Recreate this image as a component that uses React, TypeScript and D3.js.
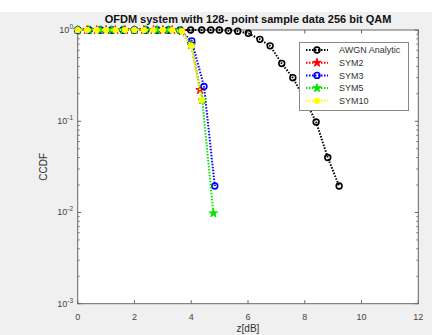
import React from 'react';
import * as d3 from 'd3';

// values (x in dB, y = CCDF)
const awgnX = [0, 0.4, 0.8, 1.2, 1.6, 2.0, 2.4, 2.8, 3.2, 3.61, 3.98, 4.37, 4.69, 4.99, 5.31, 5.64, 6.01, 6.42, 6.78, 7.19, 7.58, 7.97, 8.4, 8.81, 9.21];
const awgnY = [1, 1, 1, 1, 1, 1, 1, 1, 1, 1, 1, 1, 1, 1, 0.98, 0.97, 0.92, 0.79, 0.67, 0.43, 0.3, 0.18, 0.098, 0.04, 0.0195];

const sym2X = [0, 0.33, 0.67, 1, 1.33, 1.67, 2, 2.33, 2.67, 3, 3.33, 3.67, 4.0, 4.31];
const sym2Y = [1, 1, 1, 1, 1, 1, 1, 1, 1, 1, 1, 0.97, 0.7, 0.22];

const sym3X = [0, 0.4, 0.8, 1.2, 1.6, 2.0, 2.4, 2.8, 3.2, 3.6, 4.02, 4.45, 4.83];
const sym3Y = [1, 1, 1, 1, 1, 1, 1, 1, 1, 0.99, 0.76, 0.24, 0.0195];

const sym5X = [0, 0.4, 0.8, 1.2, 1.6, 2.0, 2.4, 2.8, 3.2, 3.6, 4.0, 4.39, 4.78];
const sym5Y = [1, 1, 1, 1, 1, 1, 1, 1, 1, 0.99, 0.68, 0.17, 0.0098];

const sym10X = [0, 0.33, 0.67, 1, 1.33, 1.67, 2, 2.33, 2.67, 3, 3.33, 3.67, 4.0, 4.37];
const sym10Y = [1, 1, 1, 1, 1, 1, 1, 1, 1, 1, 1, 0.97, 0.67, 0.17];

const seriesNames = ['AWGN Analytic', 'SYM2', 'SYM3', 'SYM5', 'SYM10'];
const seriesColors = ['#000000', '#ff0000', '#0000ff', '#00e600', '#ffff00'];
const seriesMarkers = ['circle', 'star', 'circle', 'star', 'dot'];

const xTicks = [0, 2, 4, 6, 8, 10, 12];
const yDecades = [0, -1, -2, -3];
const title = 'OFDM system with 128- point sample data 256 bit QAM';

const W = 440, H = 335;
const L = 77.7, R = 418.3, T = 30, B = 303.7;

function Marker({ kind, x, y, color }: { kind: string; x: number; y: number; color: string }) {
  if (kind === 'star') {
    const p = d3.symbol(d3.symbolStar, 22)()!;
    return <path d={p} transform={`translate(${x},${y})`} fill={color} stroke={color} strokeWidth={1} />;
  }
  if (kind === 'dot') {
    return <circle cx={x} cy={y} r={2.8} fill={color} stroke={color} strokeWidth={1} />;
  }
  return <circle cx={x} cy={y} r={2.9} fill="none" stroke={color} strokeWidth={1.6} />;
}

export default function App() {
  const x = d3.scaleLinear().domain([0, 12]).range([L, R]);
  const y = d3.scaleLog().domain([1e-3, 1]).range([B, T]);
  const line = d3.line<[number, number]>().x(d => x(d[0])).y(d => y(d[1]));

  const series = [
    [awgnX, awgnY], [sym2X, sym2Y], [sym3X, sym3Y], [sym5X, sym5Y], [sym10X, sym10Y],
  ].map(([xs, ys]) => xs.map((v, i) => [v, ys[i]] as [number, number]));

  const minor: number[] = [];
  [-3, -2, -1].forEach(e => { for (let k = 2; k <= 9; k++) minor.push(k * Math.pow(10, e)); });

  const legX = 299.5, legY = 42.5, legW = 109, legH = 68;

  return (
    <svg width={W} height={H} style={{ position: 'absolute', left: 0, top: 0 }} fontFamily="Arial, 'Liberation Sans', sans-serif">
      <rect x={0} y={0} width={W} height={H} fill="#ffffff" />
      <rect x={0} y={12} width={432} height={H - 12} fill="#f0f0f0" />
      <rect x={L} y={T} width={R - L} height={B - T} fill="#ffffff" />

      {/* ticks */}
      {xTicks.map(t => (
        <g key={'xt' + t}>
          <line x1={x(t)} x2={x(t)} y1={B} y2={B - 3.5} stroke="#666" />
          <line x1={x(t)} x2={x(t)} y1={T} y2={T + 3.5} stroke="#666" />
          <text x={x(t)} y={320} textAnchor="middle" fontSize={9} fill="#444">{t}</text>
        </g>
      ))}
      {yDecades.map(e => (
        <g key={'yt' + e}>
          <line x1={L} x2={L + 3.5} y1={y(Math.pow(10, e))} y2={y(Math.pow(10, e))} stroke="#666" />
          <line x1={R} x2={R - 3.5} y1={y(Math.pow(10, e))} y2={y(Math.pow(10, e))} stroke="#666" />
          <text x={73} y={y(Math.pow(10, e)) + 3} textAnchor="end" fontSize={9} fill="#444">
            10<tspan fontSize={6.5} dy={-4}>{e}</tspan>
          </text>
        </g>
      ))}
      {minor.map((v, i) => (
        <g key={'mn' + i}>
          <line x1={L} x2={L + 2} y1={y(v)} y2={y(v)} stroke="#777" />
          <line x1={R} x2={R - 2} y1={y(v)} y2={y(v)} stroke="#777" />
        </g>
      ))}
      <rect x={L} y={T} width={R - L} height={B - T} fill="none" stroke="#666" strokeWidth={1} />

      {/* series */}
      {series.map((pts, si) => (
        <g key={'s' + si}>
          <path d={line(pts)!} fill="none" stroke={seriesColors[si]} strokeWidth={2} strokeDasharray="1.5 1.5" />
          {pts.map((p, i) => (
            <Marker key={i} kind={seriesMarkers[si]} x={x(p[0])} y={y(p[1])} color={seriesColors[si]} />
          ))}
        </g>
      ))}

      {/* legend */}
      <rect x={legX} y={legY} width={legW} height={legH} fill="#ffffff" stroke="#888" strokeWidth={1} />
      {seriesNames.map((n, i) => {
        const ly = 50 + i * 12.7;
        return (
          <g key={'lg' + i}>
            <line x1={306} x2={328} y1={ly} y2={ly} stroke={seriesColors[i]} strokeWidth={2} strokeDasharray="1.5 1.5" />
            <Marker kind={seriesMarkers[i]} x={317} y={ly} color={seriesColors[i]} />
            <text x={339} y={ly + 3.2} fontSize={9} fill="#333">{n}</text>
          </g>
        );
      })}

      <text x={(L + R) / 2} y={23} textAnchor="middle" fontSize={11} fontWeight="bold" fill="#111">{title}</text>
      <text transform={`translate(47,${(T + B) / 2}) rotate(-90)`} textAnchor="middle" fontSize={10} fill="#333">CCDF</text>
      <text x={(L + R) / 2} y={332} textAnchor="middle" fontSize={10} fill="#333">z[dB]</text>
    </svg>
  );
}
